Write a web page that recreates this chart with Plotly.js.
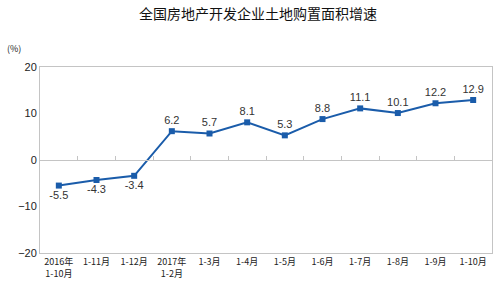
<!DOCTYPE html>
<html><head><meta charset="utf-8">
<script src="https://cdn.plot.ly/plotly-3.0.1.min.js"></script>
<style>html,body{margin:0;padding:0;background:#fff}#c{width:500px;height:290px}</style>
</head><body><div id="c"></div>
<script>
const categories = ["2016年<br>1-10月","1-11月","1-12月","2017年<br>1-2月","1-3月","1-4月","1-5月","1-6月","1-7月","1-8月","1-9月","1-10月"];
const growth = [-5.5,-4.3,-3.4,6.2,5.7,8.1,5.3,8.8,11.1,10.1,12.2,12.9];
const yTicks = [-20,-10,0,10,20];
const labelPos = growth.map((v,i)=> i<3 ? "bottom center" : "top center");
const idx = categories.map((c,i)=>i);
const boundaries = idx.map(i=>i-0.5).concat([categories.length-0.5]);

const data = [{
  x: idx, y: growth, type: "scatter", mode: "lines+markers+text",
  line: {color: "#1a5caa", width: 2},
  marker: {symbol: "square", size: 6, color: "#1a5caa"},
  text: growth.map(v=>v.toFixed(1)), textposition: labelPos,
  textfont: {family: "Liberation Sans, Arial", size: 11, color: "#333"},
  cliponaxis: false, hoverinfo: "none", showlegend: false
},{
  x: idx, y: growth.map(()=>null), xaxis: "x2", yaxis: "y", type: "scatter",
  mode: "markers", showlegend: false, hoverinfo: "none"
}];

const layout = {
  width: 500, height: 290,
  margin: {l: 40, r: 8, t: 67, b: 37},
  paper_bgcolor: "#fff", plot_bgcolor: "#fff",
  title: {text: "全国房地产开发企业土地购置面积增速", x: 0.516, xanchor: "center",
          y: 0.952, yref: "container", yanchor: "middle",
          font: {family: "Noto Sans CJK SC", size: 14, color: "#111"}},
  xaxis: {range: [-0.5, 11.5], tickvals: idx, ticktext: categories, showgrid: false,
          zeroline: false, showline: true, mirror: true, linecolor: "#c4c4c4", linewidth: 1,
          ticks: "", tickfont: {family: "Noto Sans CJK SC", size: 9, color: "#222"}},
  xaxis2: {overlaying: "x", anchor: "free", position: 0.5, range: [-0.5, 11.5],
           tickvals: boundaries, ticks: "inside", ticklen: 4, tickcolor: "#c4c4c4",
           showticklabels: false, showline: true, linecolor: "#c4c4c4", showgrid: false, zeroline: false},
  yaxis: {range: [-20, 20], tickvals: yTicks, showgrid: false, zeroline: false,
          showline: true, mirror: true, linecolor: "#c4c4c4", ticks: "",
          tickfont: {family: "Liberation Sans, Arial", size: 11, color: "#222"}},
  annotations: [{text: "(%)", xref: "paper", yref: "paper", x: -0.078, y: 1.1,
                 xanchor: "left", yanchor: "middle", showarrow: false,
                 font: {family: "Noto Sans CJK SC", size: 9, color: "#222"}}]
};
Plotly.newPlot("c", data, layout, {staticPlot: true, displayModeBar: false});
</script></body></html>
